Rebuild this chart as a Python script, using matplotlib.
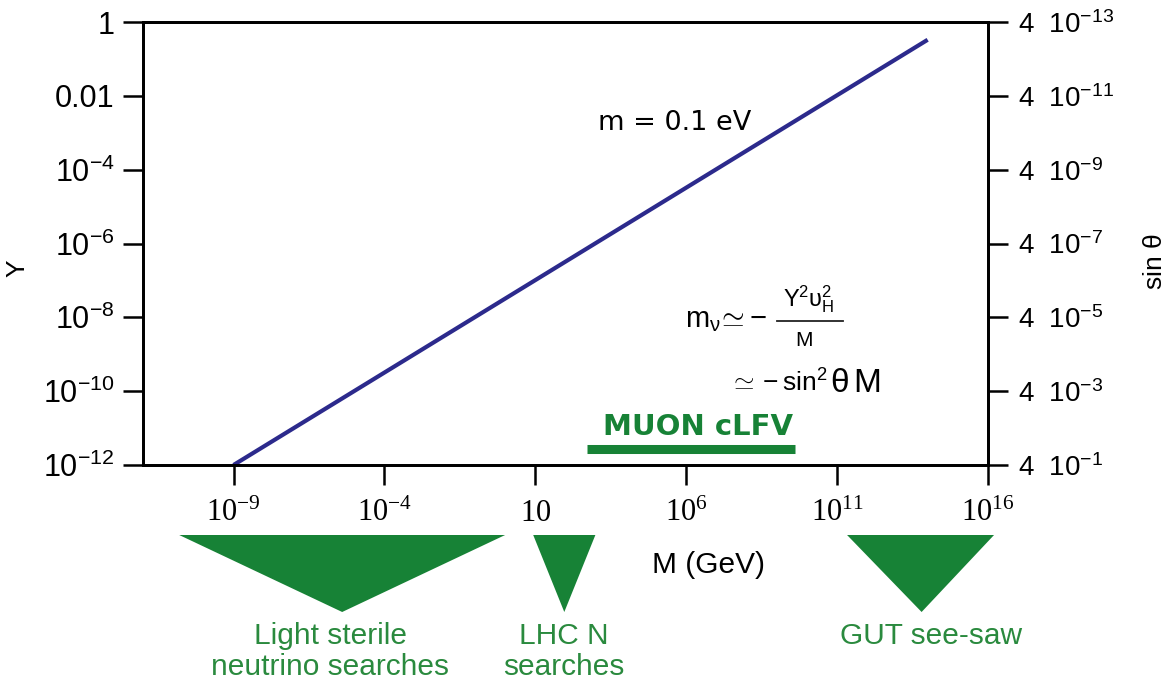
import matplotlib.pyplot as plt
import matplotlib.transforms as mtransforms
from matplotlib.patches import Polygon
from matplotlib.ticker import FixedLocator, FixedFormatter, NullLocator

plt.rcParams['mathtext.fontset'] = 'custom'
plt.rcParams['mathtext.rm'] = 'Liberation Serif'
plt.rcParams['mathtext.sf'] = 'Liberation Sans'
plt.rcParams['mathtext.it'] = 'Liberation Sans:italic'
plt.rcParams['font.family'] = ['Liberation Sans', 'DejaVu Sans']

# seesaw line for m = 0.1 eV
M_line = [1e-9, 1e14]
Y_line = [1e-12, 3.3e-1]

y_ticks = [1, 1e-2, 1e-4, 1e-6, 1e-8, 1e-10, 1e-12]
y_labels = ['1', '0.01', r'$\mathsf{10^{-4}}$', r'$\mathsf{10^{-6}}$', r'$\mathsf{10^{-8}}$',
            r'$\mathsf{10^{-10}}$', r'$\mathsf{10^{-12}}$']
sin_labels = [r'$\mathsf{4\ \ 10^{-13}}$', r'$\mathsf{4\ \ 10^{-11}}$', r'$\mathsf{4\ \ 10^{-9}}$',
              r'$\mathsf{4\ \ 10^{-7}}$', r'$\mathsf{4\ \ 10^{-5}}$', r'$\mathsf{4\ \ 10^{-3}}$',
              r'$\mathsf{4\ \ 10^{-1}}$']
x_ticks = [1e-9, 1e-4, 1e1, 1e6, 1e11, 1e16]
x_labels = [r'$\mathrm{10^{-9}}$', r'$\mathrm{10^{-4}}$', r'$\mathrm{10}$', r'$\mathrm{10^{6}}$',
            r'$\mathrm{10^{11}}$', r'$\mathrm{10^{16}}$']

# search regions: (left, apex, right) in M, label centre in M, label
regions = [
    (10**-10.8, 10**-5.4, 10**0.0, 10**-5.8, 'Light sterile\nneutrino searches'),
    (10**0.93, 10**1.96, 10**2.99, 10**1.93, 'LHC N\nsearches'),
    (10**11.33, 10**13.8, 10**16.2, 10**14.1, 'GUT see-saw'),
]
muon_range = [10**2.72, 10**9.6]
muon_Y = 10**-11.57

green = '#178236'
text_green = '#2a8a3e'
navy = '#2c2a8c'

W, H = 1169, 687
L, R, T, B = 143, 988, 22, 465

fig = plt.figure(figsize=(W / 100, H / 100), dpi=100)
ax = fig.add_axes([L / W, 1 - B / H, (R - L) / W, (B - T) / H])


def at(px, py):
    # pixel position -> axes fraction
    return (px - L) / (R - L), (B - py) / (B - T)


ax.plot(M_line, Y_line, color=navy, lw=3.0, solid_capstyle='butt')

ax.set_xscale('log')
ax.set_yscale('log')
ax.set_xlim(1e-12, 1e16)
ax.set_ylim(1e-12, 1)

ax.xaxis.set_major_locator(FixedLocator(x_ticks))
ax.xaxis.set_major_formatter(FixedFormatter(x_labels))
ax.xaxis.set_minor_locator(NullLocator())
ax.yaxis.set_major_locator(FixedLocator(y_ticks))
ax.yaxis.set_major_formatter(FixedFormatter(y_labels))
ax.yaxis.set_minor_locator(NullLocator())

for sp in ax.spines.values():
    sp.set_linewidth(2.0)
ax.tick_params(axis='both', which='major', direction='out', length=14.5,
               width=1.8, labelsize=22, pad=6)
ax.tick_params(axis='x', labelsize=22, pad=9)
ax.set_ylabel('Y', fontsize=19)
ax.yaxis.set_label_coords(*at(17, 268))
ax.yaxis.label.set_va('center')
ax.yaxis.label.set_ha('center')

ax2 = ax.twinx()
ax2.set_yscale('log')
ax2.set_ylim(ax.get_ylim())
ax2.yaxis.set_major_locator(FixedLocator(y_ticks))
ax2.yaxis.set_major_formatter(FixedFormatter(sin_labels))
ax2.yaxis.set_minor_locator(NullLocator())
ax2.tick_params(axis='y', direction='out', length=14.5, width=1.8, labelsize=20, pad=7)
for sp in ax2.spines.values():
    sp.set_linewidth(2.0)
ax2.set_ylabel(r'sin $\mathsf{\theta}$', fontsize=19)
ax2.yaxis.set_label_coords(*at(1155, 262))
ax2.yaxis.label.set_va('center')
ax2.yaxis.label.set_ha('center')

ax.text(*at(598, 130), 'm = 0.1 eV', transform=ax.transAxes, family='DejaVu Sans',
        fontsize=19.5, ha='left', va='baseline')

# seesaw relation
ax.text(*at(685, 327), r'$\mathsf{m_{\nu}\!\simeq\!-}$', transform=ax.transAxes,
        fontsize=21, ha='left', va='baseline')
ax.text(*at(809, 306), r'$\mathsf{Y^2\upsilon_H^2}$', transform=ax.transAxes,
        fontsize=17, ha='center', va='baseline')
ax.plot([at(777, 0)[0], at(843, 0)[0]], [at(0, 321)[1]] * 2, color='#222222',
        lw=1.3, transform=ax.transAxes, clip_on=False)
ax.text(*at(804, 346), r'$\mathsf{M}$', transform=ax.transAxes,
        fontsize=15, ha='center', va='baseline')
ax.text(*at(729, 392), r'$\mathsf{\simeq -sin^2}$', transform=ax.transAxes,
        fontsize=19, ha='left', va='baseline')
ax.text(*at(830, 392), r'$\mathsf{\theta\, M}$', transform=ax.transAxes,
        fontsize=24, ha='left', va='baseline')

# MUON cLFV reach
ax.plot(muon_range, [muon_Y, muon_Y], color=green, lw=6.5, solid_capstyle='butt')
ax.text(10**6.39, 10**-11.19, 'MUON cLFV', color=green, fontsize=21,
        fontweight='bold', family='DejaVu Sans', ha='center', va='baseline')

ax.text(*at(709, 573), 'M (GeV)', transform=ax.transAxes, fontsize=21.5,
        ha='center', va='baseline')

# triangles below the axis, x in data units and y in axes units
trans = mtransforms.blended_transform_factory(ax.transData, ax.transAxes)
top, tip = at(0, 535)[1], at(0, 612)[1]
for left, apex, right, lx, label in regions:
    tri = Polygon([(left, top), (right, top), (apex, tip)], closed=True,
                  facecolor=green, edgecolor='none', transform=trans, clip_on=False)
    ax.add_patch(tri)
    ax.text(lx, at(0, 622)[1], label, transform=trans, color=text_green,
            fontsize=21.5, ha='center', va='top', linespacing=1.13)

fig.savefig('out.png', dpi=100)
